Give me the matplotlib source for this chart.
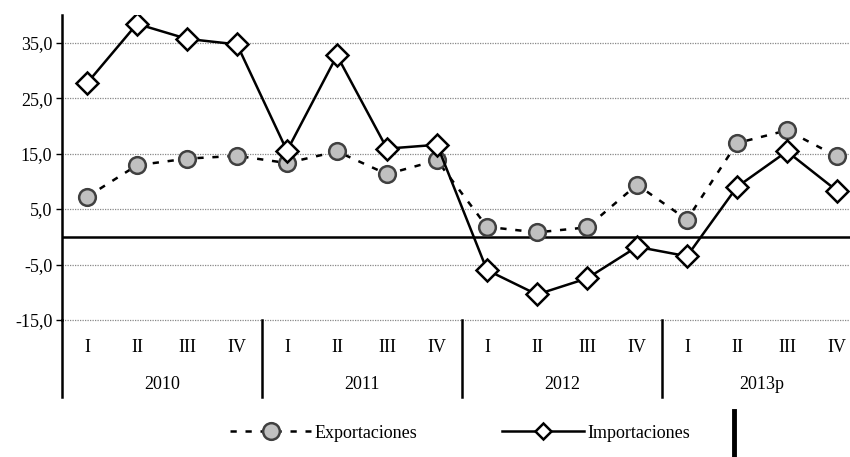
import numpy as np
import matplotlib
matplotlib.use("Agg")
import matplotlib.pyplot as plt
from matplotlib.lines import Line2D
import matplotlib.transforms as mtransforms

plt.rcParams['font.family'] = ['Liberation Serif', 'DejaVu Serif']

quarters = ['I', 'II', 'III', 'IV'] * 4
years = ['2010', '2011', '2012', '2013p']

exportaciones = [7.2, 12.9, 14.1, 14.6, 13.3, 15.4, 11.3, 13.8,
                 1.8, 0.8, 1.7, 9.4, 3.1, 16.9, 19.2, 14.5]
importaciones = [27.7, 38.4, 35.7, 34.7, 15.5, 32.7, 15.9, 16.6,
                 -6.0, -10.4, -7.5, -1.8, -3.5, 9.0, 15.4, 8.3]

yticks = [-15, -5, 5, 15, 25, 35]
fs = 13

fig = plt.figure(figsize=(8.5, 4.57), dpi=100)
ax = fig.add_axes([62 / 850, 137 / 457, 800 / 850, 305 / 457])

x = np.arange(len(quarters))

ax.plot(x, exportaciones, color='black', lw=1.8, ls=(0, (2.5, 3.5)),
        marker='o', ms=12, mfc='#c0c0c0', mec='#404040', mew=1.8,
        label='Exportaciones', zorder=3)
ax.plot(x, importaciones, color='black', lw=1.8, ls='-',
        marker='D', ms=11, mfc='white', mec='black', mew=1.8,
        label='Importaciones', zorder=4)

ax.axhline(0, color='black', lw=1.8, zorder=2)
for t in yticks:
    ax.axhline(t, color='#888888', lw=0.9, ls=(0, (1, 1)), zorder=1,
               clip_on=False)

ax.set_xlim(-0.5, len(quarters) - 0.5)
ax.set_ylim(-15, 40)
ax.set_yticks(yticks)
ax.set_yticklabels([f'{t:.1f}'.replace('.', ',') for t in yticks], fontsize=fs)
ax.tick_params(axis='y', length=4, width=1, pad=3)

ax.set_xticks(x)
ax.set_xticklabels(quarters, fontsize=fs)
ax.tick_params(axis='x', length=0, pad=14)

for s in ['top', 'right', 'bottom']:
    ax.spines[s].set_visible(False)
ax.spines['left'].set_linewidth(1.8)

trans = mtransforms.blended_transform_factory(ax.transData, ax.transAxes)
for xs in [-0.5, 3.5, 7.5, 11.5]:
    ax.plot([xs, xs], [0, -0.252], color='black', lw=1.8, transform=trans,
            clip_on=False)
for i, yr in enumerate(years):
    ax.text(i * 4 + 1.5, -0.212, yr, transform=trans, ha='center', va='center',
            fontsize=fs)

handles = [
    Line2D([], [], color='black', lw=1.8, ls=(0, (2.5, 3.5)), marker='o', ms=12,
           mfc='#c0c0c0', mec='#404040', mew=1.8),
    Line2D([], [], color='black', lw=1.8, ls='-', marker='D', ms=8,
           mfc='white', mec='black', mew=1.8),
]
fig.legend(handles, ['Exportaciones', 'Importaciones'], loc='center',
           bbox_to_anchor=(460 / 850, 1 - 433 / 457), ncol=2, frameon=False,
           fontsize=fs, handlelength=4.5, handletextpad=0.2, columnspacing=4.7)

fig.add_artist(Line2D([734 / 850, 734 / 850], [0, 1 - 411 / 457], color='black',
                      lw=3.5))

fig.savefig('out.png', dpi=100)
